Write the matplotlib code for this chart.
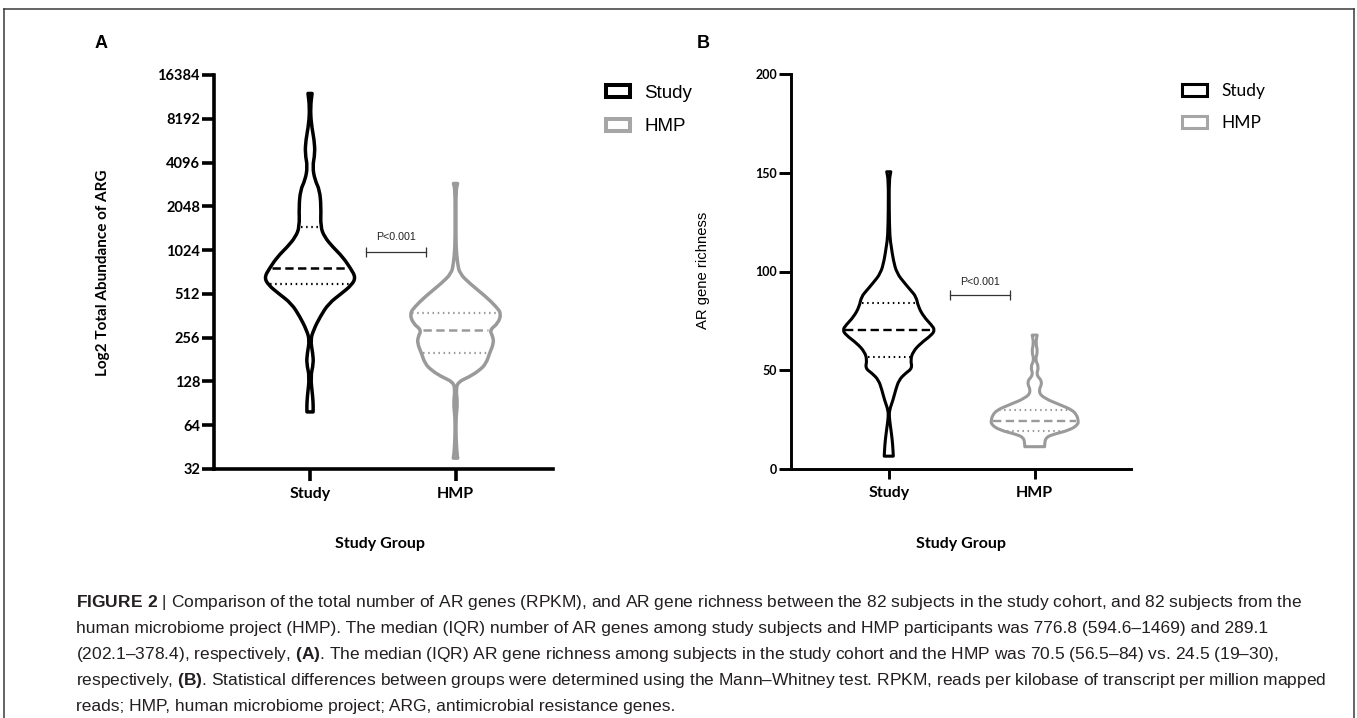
import matplotlib
matplotlib.use("Agg")
import matplotlib.pyplot as plt
import numpy as np
from matplotlib.patches import Patch, PathPatch
from matplotlib.path import Path
from matplotlib.lines import Line2D

plt.rcParams['lines.scale_dashes'] = False
plt.rcParams['mathtext.fontset'] = 'custom'
plt.rcParams['mathtext.rm'] = 'Liberation Sans'
plt.rcParams['mathtext.bf'] = 'Liberation Sans:bold'

# ---------------- data ----------------
groups = ['Study', 'HMP']
colors = ['#000000', '#9a9a9a']

# Panel A: total abundance of ARG (log2 axis); violin outline profile (value, half-width)
a_study_y = [12230, 9890, 7600, 5840, 4730, 3830, 3100, 2650, 2030, 1480, 1260, 1080, 921,
             766, 664, 589, 516, 440, 356, 289, 246, 200, 170, 138, 100, 86, 79]
a_study_w = [0.014, 0.003, 0.008, 0.029, 0.034, 0.017, 0.034, 0.066, 0.076, 0.072, 0.100, 0.155, 0.224,
             0.279, 0.314, 0.286, 0.217, 0.128, 0.069, 0.024, 0.003, 0.019, 0.024, 0.003, 0.019, 0.022, 0.021]
a_hmp_y = [2940, 2650, 1650, 1080, 830, 708, 605, 489, 418, 376, 321, 289, 260, 234, 200, 170,
           153, 138, 127, 112, 90.5, 73, 53, 41, 38]
a_hmp_w = [0.014, 0.003, 0.003, 0.003, 0.014, 0.028, 0.097, 0.210, 0.279, 0.314, 0.293, 0.234, 0.257,
           0.262, 0.234, 0.210, 0.166, 0.097, 0.017, 0.003, 0.014, 0.003, 0.003, 0.010, 0.015]
a_median = [776.8, 289.1]
a_q1 = [594.6, 202.1]
a_q3 = [1469, 378.4]
a_yticks = [32, 64, 128, 256, 512, 1024, 2048, 4096, 8192, 16384]

# Panel B: AR gene richness
b_study_y = [150.5, 146.3, 131.1, 117.6, 112.6, 105.8, 99.1, 94.0, 90.6, 87.2, 82.2, 77.1, 72.9,
             70.4, 67.8, 63.6, 59.4, 55.2, 51.0, 48.5, 45.1, 40.0, 34.9, 29.9, 26.5, 21.4, 14.7, 9.6, 6.5]
b_study_w = [0.014, 0.003, 0.003, 0.007, 0.017, 0.031, 0.055, 0.110, 0.149, 0.188, 0.202, 0.240, 0.293,
             0.316, 0.293, 0.218, 0.166, 0.149, 0.161, 0.115, 0.070, 0.047, 0.029, 0.005, 0.003, 0.012,
             0.024, 0.029, 0.031]
b_hmp_y = [67.8, 63.6, 59.4, 55.2, 51.8, 47.6, 44.2, 39.1, 35.8, 32.4, 29.9, 27.3, 24.8, 22.5,
           19.7, 17.7, 16.0, 12.2, 11.3]
b_hmp_w = [0.017, 0.007, 0.021, 0.003, 0.029, 0.010, 0.055, 0.024, 0.065, 0.178, 0.257, 0.288, 0.298,
           0.298, 0.240, 0.134, 0.075, 0.068, 0.068]
b_median = [70.5, 24.5]
b_q1 = [56.5, 19]
b_q3 = [84, 30]
b_yticks = [0, 50, 100, 150, 200]

caption_lines = [
    r"$\mathbf{FIGURE\ 2}$ | Comparison of the total number of AR genes (RPKM), and AR gene richness between the 82 subjects in the study cohort, and 82 subjects from the",
    "human microbiome project (HMP). The median (IQR) number of AR genes among study subjects and HMP participants was 776.8 (594.6–1469) and 289.1",
    r"(202.1–378.4), respectively, $\mathbf{(A)}$. The median (IQR) AR gene richness among subjects in the study cohort and the HMP was 70.5 (56.5–84) vs. 24.5 (19–30),",
    r"respectively, $\mathbf{(B)}$. Statistical differences between groups were determined using the Mann–Whitney test. RPKM, reads per kilobase of transcript per million mapped",
    "reads; HMP, human microbiome project; ARG, antimicrobial resistance genes.",
]

# ---------------- figure ----------------
W, H, DPI = 1357, 718, 100
fig = plt.figure(figsize=(W / DPI, H / DPI), dpi=DPI)
fig.patch.set_facecolor('white')

def fx(px):
    return px / W

def fy(py):
    return 1 - py / H


def _mid(p, q, log):
    ym = np.sqrt(p[1] * q[1]) if log else 0.5 * (p[1] + q[1])
    return (0.5 * (p[0] + q[0]), ym)


def _side(pts, log):
    """Smooth (quadratic B-spline) run through profile points; returns verts, codes (no MOVETO)."""
    verts, codes = [], []
    verts.append(_mid(pts[0], pts[1], log)); codes.append(Path.LINETO)
    for i in range(1, len(pts) - 1):
        verts.append(pts[i]); codes.append(Path.CURVE3)
        verts.append(_mid(pts[i], pts[i + 1], log)); codes.append(Path.CURVE3)
    verts.append(pts[-1]); codes.append(Path.LINETO)
    return verts, codes


def draw_violin(ax, pos, ys, ws, color, lw, log=False):
    ys = list(map(float, ys))
    ws = list(map(float, ws))
    right = [(pos + w, y) for y, w in zip(ys, ws)]
    left = [(pos - w, y) for y, w in zip(ys, ws)][::-1]
    verts = [left[-1]]
    codes = [Path.MOVETO]
    verts.append(right[0]); codes.append(Path.LINETO)
    v, c = _side(right, log); verts += v; codes += c
    verts.append(left[0]); codes.append(Path.LINETO)
    v, c = _side(left, log); verts += v; codes += c
    verts.append(left[-1]); codes.append(Path.CLOSEPOLY)
    patch = PathPatch(Path(verts, codes), facecolor='white', edgecolor=color, linewidth=lw,
                      joinstyle='round', zorder=3)
    ax.add_patch(patch)


def width_at(ys, ws, val, log=False):
    ys = np.asarray(ys, float)
    ws = np.asarray(ws, float)
    order = np.argsort(ys)
    yy = ys[order]
    if log:
        return np.interp(np.log2(val), np.log2(yy), ws[order])
    return np.interp(val, yy, ws[order])


def quart_lines(ax, pos, ys, ws, med, q1, q3, color, log, inset, lw_med, lw_q):
    for val, style, lw in [(med, 'med', lw_med), (q1, 'q', lw_q), (q3, 'q', lw_q)]:
        w = width_at(ys, ws, val, log) - inset
        if style == 'med':
            ax.plot([pos - w, pos + w], [val, val], color=color, lw=lw,
                    dashes=(6, 3.2), zorder=4, solid_capstyle='butt', dash_capstyle='butt')
        else:
            ax.plot([pos - w, pos + w], [val, val], color=color, lw=lw,
                    dashes=(1.1, 2.6), zorder=4, dash_capstyle='butt')


def style_axes(ax, spine_lw, tick_len, tick_w, lab_size, pad_y, pad_x):
    for s in ['top', 'right']:
        ax.spines[s].set_visible(False)
    for s in ['left', 'bottom']:
        ax.spines[s].set_linewidth(spine_lw)
        ax.spines[s].set_color('black')
    ax.tick_params(axis='both', which='major', direction='out', length=tick_len, width=tick_w,
                   colors='black')
    ax.tick_params(axis='y', pad=pad_y)
    ax.tick_params(axis='x', pad=pad_x)
    ax.minorticks_off()
    for lab in ax.get_yticklabels():
        lab.set_fontfamily('Lato')
        lab.set_fontweight('bold')
        lab.set_fontsize(lab_size)
    for lab in ax.get_xticklabels():
        lab.set_fontfamily('Lato')
        lab.set_fontweight('bold')
        lab.set_fontsize(11.5)


positions = [0, 1]

# ---------------- Panel A ----------------
axA = fig.add_axes([fx(214), fy(469), fx(339), 394 / H])
axA.set_yscale('log', base=2)
draw_violin(axA, 0, a_study_y, a_study_w, colors[0], 2.5, log=True)
draw_violin(axA, 1, a_hmp_y, a_hmp_w, colors[1], 2.5, log=True)
quart_lines(axA, 0, a_study_y, a_study_w, a_median[0], a_q1[0], a_q3[0], colors[0], True, 0.012, 1.8, 1.6)
quart_lines(axA, 1, a_hmp_y, a_hmp_w, a_median[1], a_q1[1], a_q3[1], colors[1], True, 0.012, 1.8, 1.6)
axA.set_ylim(32, 16384)
axA.set_xlim(-0.66, 1.67)
axA.set_yticks(a_yticks)
axA.set_yticklabels([str(t) for t in a_yticks])
axA.yaxis.set_minor_locator(matplotlib.ticker.NullLocator())
axA.set_xticks(positions)
axA.set_xticklabels(groups)
style_axes(axA, 2.6, 8.6, 2.6, 10.5, 1.5, 4.5)
axA.set_ylabel('Log2 Total Abundance of ARG', fontfamily='Lato', fontweight='bold', fontsize=11, va='center')
axA.yaxis.set_label_coords(-0.327, 0.497)
axA.set_xlabel('Study Group', fontfamily='Lato', fontweight='bold', fontsize=11.5, va='center')
axA.xaxis.set_label_coords(0.49, -0.19)

# significance bracket A
ya = 1000
axA.plot([0.386, 0.80], [ya, ya], color='#333333', lw=0.9, zorder=5)
axA.plot([0.386, 0.80], [ya, ya], ls='none', marker='|', ms=7.5, mew=0.9, color='#333333', zorder=5)
axA.annotate('P<0.001', xy=(0.593, ya), xytext=(0, 7), textcoords='offset points', ha='center',
             va='bottom', fontsize=7.7, fontfamily='Liberation Sans', color='#222222')

legA = axA.legend(handles=[Patch(facecolor='white', edgecolor='black', linewidth=2.9),
                           Patch(facecolor='white', edgecolor='#a6a6a6', linewidth=2.9)],
                  labels=groups, loc='upper left', bbox_to_anchor=(fx(606), fy(85)),
                  bbox_transform=fig.transFigure, frameon=False,
                  prop={'family': 'Liberation Sans', 'size': 13.5},
                  handlelength=1.28, handleheight=0.59, handletextpad=0.75,
                  labelspacing=0.87, borderpad=0, borderaxespad=0)

# ---------------- Panel B ----------------
axB = fig.add_axes([fx(791), fy(469), fx(340), 395 / H])
draw_violin(axB, 0, b_study_y, b_study_w, colors[0], 2.2)
draw_violin(axB, 1, b_hmp_y, b_hmp_w, colors[1], 2.2)
quart_lines(axB, 0, b_study_y, b_study_w, b_median[0], b_q1[0], b_q3[0], colors[0], False, 0.012, 1.7, 1.5)
quart_lines(axB, 1, b_hmp_y, b_hmp_w, b_median[1], b_q1[1], b_q3[1], colors[1], False, 0.012, 1.7, 1.5)
axB.set_ylim(0, 200)
axB.set_xlim(-0.67, 1.66)
axB.set_yticks(b_yticks)
axB.set_yticklabels([str(t) for t in b_yticks])
axB.set_xticks(positions)
axB.set_xticklabels(groups)
style_axes(axB, 2.1, 9, 2.1, 9, 0.8, 4.5)
axB.tick_params(axis='x', length=7.5)
axB.set_ylabel('AR gene richness', fontfamily='Liberation Sans', fontsize=10.7, va='center')
axB.yaxis.set_label_coords(-0.259, 0.504)
axB.set_xlabel('Study Group', fontfamily='Lato', fontweight='bold', fontsize=11.5, va='center')
axB.xaxis.set_label_coords(0.5, -0.19)

yb = 88
axB.plot([0.42, 0.83], [yb, yb], color='#333333', lw=0.9, zorder=5)
axB.plot([0.42, 0.83], [yb, yb], ls='none', marker='|', ms=7, mew=0.9, color='#333333', zorder=5)
axB.annotate('P<0.001', xy=(0.625, yb), xytext=(0, 6), textcoords='offset points', ha='center',
             va='bottom', fontsize=7.7, fontfamily='Liberation Sans', color='#222222')

legB = axB.legend(handles=[Patch(facecolor='white', edgecolor='black', linewidth=2.2),
                           Patch(facecolor='white', edgecolor='#a6a6a6', linewidth=2.2)],
                  labels=groups, loc='upper left', bbox_to_anchor=(fx(1182), fy(83)),
                  bbox_transform=fig.transFigure, frameon=False,
                  prop={'family': 'Lato', 'size': 12.5},
                  handlelength=1.44, handleheight=0.63, handletextpad=0.83,
                  labelspacing=0.92, borderpad=0, borderaxespad=0)

# panel letters
fig.text(fx(101), fy(43), 'A', fontsize=13, fontweight='bold', fontfamily='Liberation Sans',
         ha='center', va='center')
fig.text(fx(703), fy(43), 'B', fontsize=13, fontweight='bold', fontfamily='Liberation Sans',
         ha='center', va='center')

# caption
cap_y = [603, 629, 655, 681, 707]
for line, yy in zip(caption_lines, cap_y):
    fig.text(fx(76), fy(yy), line, fontsize=12.5, fontfamily='Liberation Sans', color='#231f20',
             ha='left', va='center')

# frame
frame_col = '#3a3a3a'
fig.add_artist(Line2D([fx(3.5), fx(1354)], [fy(8.5), fy(8.5)], transform=fig.transFigure,
                      color=frame_col, lw=1.1))
fig.add_artist(Line2D([fx(3.5), fx(3.5)], [fy(8.5), 0], transform=fig.transFigure,
                      color=frame_col, lw=1.1))
fig.add_artist(Line2D([fx(1354), fx(1354)], [fy(8.5), 0], transform=fig.transFigure,
                      color=frame_col, lw=1.1))

fig.savefig('out.png', dpi=DPI, facecolor='white')
